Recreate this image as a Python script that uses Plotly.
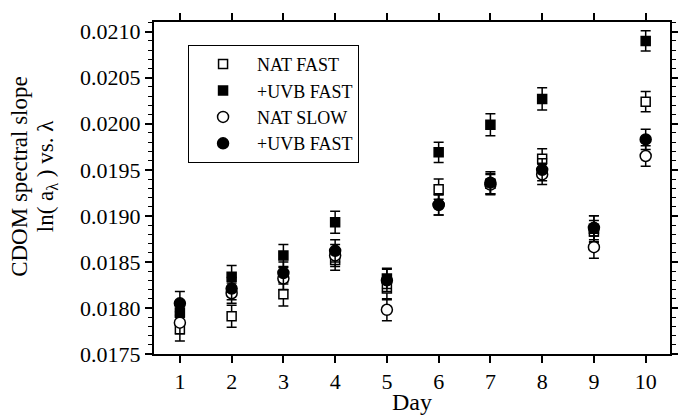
import plotly.graph_objects as go

days = [1, 2, 3, 4, 5, 6, 7, 8, 9, 10]

nat_fast = [0.01777, 0.01791, 0.01815, 0.01852, 0.01821, 0.01929, 0.01935, 0.01962, 0.01883, 0.02024]
nat_fast_err = [0.00013, 0.00012, 0.00013, 0.00011, 0.00012, 0.00011, 0.00011, 0.00011, 0.00012, 0.00011]

uvb_fast_sq = [0.01795, 0.01834, 0.01857, 0.01893, 0.01832, 0.01969, 0.01999, 0.02027, 0.01886, 0.02090]
uvb_fast_sq_err = [0.00012, 0.00012, 0.00012, 0.00012, 0.00011, 0.00011, 0.00012, 0.00012, 0.00014, 0.00011]

nat_slow = [0.01784, 0.01816, 0.01832, 0.01857, 0.01798, 0.01912, 0.01934, 0.01945, 0.01866, 0.01965]
nat_slow_err = [0.00012, 0.00011, 0.00012, 0.00012, 0.00012, 0.00011, 0.00011, 0.00011, 0.00012, 0.00011]

uvb_fast_circ = [0.01805, 0.01821, 0.01838, 0.01862, 0.01830, 0.01912, 0.01936, 0.01950, 0.01887, 0.01983]
uvb_fast_circ_err = [0.00013, 0.00012, 0.00012, 0.00012, 0.00012, 0.00011, 0.00012, 0.00012, 0.00013, 0.00011]

y_title_lines = ["CDOM spectral slope", "ln( a<sub>λ</sub> ) vs. λ"]

series = [
    ("NAT FAST", nat_fast, nat_fast_err, "square", "white", 9),
    ("+UVB FAST", uvb_fast_sq, uvb_fast_sq_err, "square", "black", 9),
    ("NAT SLOW", nat_slow, nat_slow_err, "circle", "white", 11),
    ("+UVB FAST", uvb_fast_circ, uvb_fast_circ_err, "circle", "black", 11),
]

FONT = "Liberation Serif"

fig = go.Figure()
for name, vals, errs, sym, fill, size in series:
    fig.add_trace(go.Scatter(
        x=days, y=vals, name=name, mode="markers",
        marker=dict(symbol=sym, color=fill, size=size,
                    line=dict(color="black", width=1.5)),
        error_y=dict(type="data", array=errs, visible=True,
                     color="black", thickness=1.5, width=5),
    ))

# y-axis title as two rotated lines (tight line spacing as in the reference)
for xp, txt in zip([-0.262, -0.207], y_title_lines):
    fig.add_annotation(text=txt, xref="paper", yref="paper", x=xp, y=0.536,
                       xanchor="center", yanchor="middle", textangle=-90,
                       showarrow=False, font=dict(family=FONT, size=23, color="black"))

fig.update_layout(
    width=678, height=415,
    margin=dict(l=154, r=8, t=22, b=61),
    paper_bgcolor="white", plot_bgcolor="white",
    font=dict(family=FONT, size=22, color="black"),
    showlegend=True,
    legend=dict(x=0.066, y=0.931, xanchor="left", yanchor="top",
                bgcolor="white", bordercolor="black", borderwidth=1,
                font=dict(family=FONT, size=18, color="black"),
                itemwidth=58, tracegroupgap=0),
    xaxis=dict(range=[0.5, 10.47], tick0=1, dtick=1, ticks="outside",
               ticklen=7, tickwidth=1.5, tickcolor="black",
               showline=True, linecolor="black", linewidth=2,
               mirror="allticks", showgrid=False, zeroline=False,
               automargin=False,
               title=dict(text="Day", font=dict(family=FONT, size=24), standoff=10),
               tickfont=dict(family=FONT, size=22)),
    yaxis=dict(range=[0.0175, 0.021105], tick0=0.0175, dtick=0.0005,
               tickformat=".4f", ticks="outside", ticklen=7, tickwidth=1.5,
               tickcolor="black", showline=True, linecolor="black", linewidth=2,
               mirror="allticks", showgrid=False, zeroline=False,
               automargin=False,
               minor=dict(dtick=0.0001, ticks="outside", ticklen=4,
                          tickwidth=1, tickcolor="black", showgrid=False),
               tickfont=dict(family=FONT, size=22)),
)

fig.write_html("out.html")
